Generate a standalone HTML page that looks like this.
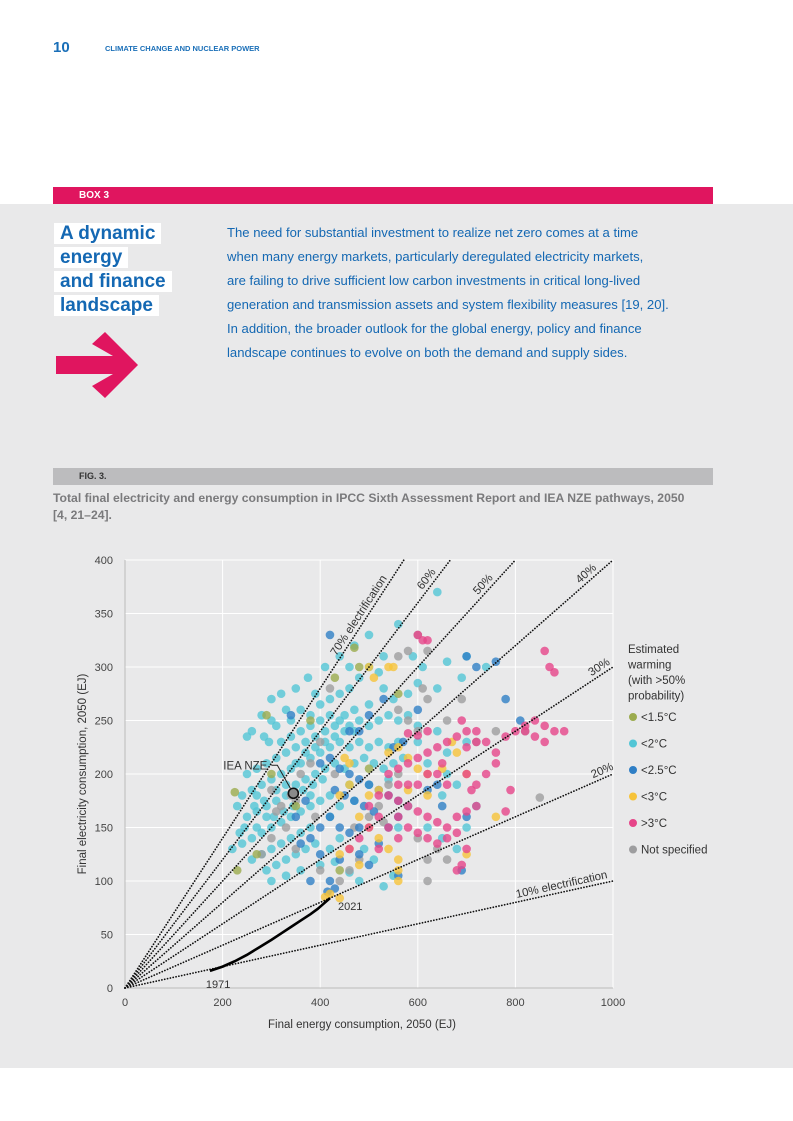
<!DOCTYPE html>
<html><head><meta charset="utf-8"><style>
body{margin:0;width:793px;height:1121px;background:#fff;position:relative;overflow:hidden;font-family:"Liberation Sans",sans-serif;}
.abs{position:absolute;}
.hl{background:#fff;padding:0 6px 0 6px;}
</style></head><body>
<div class="abs" style="left:53px;top:39px;font-size:15px;font-weight:bold;color:#1a6fb8;">10</div>
<div class="abs" style="left:105px;top:44px;font-size:7.5px;font-weight:bold;color:#1a6fb8;">CLIMATE CHANGE AND NUCLEAR POWER</div>
<div class="abs" style="left:0;top:204px;width:793px;height:864px;background:#e9e9ea;"></div>
<div class="abs" style="left:53px;top:187px;width:660px;height:17px;background:#e0155f;"></div>
<div class="abs" style="left:79px;top:190px;font-size:10px;font-weight:bold;color:#fff;">BOX 3</div>
<div class="abs" style="left:54px;top:222px;font-size:19px;font-weight:bold;color:#1468b3;line-height:24px;">
<span class="hl">A dynamic</span><br><span class="hl">energy</span><br><span class="hl">and finance</span><br><span class="hl">landscape</span></div>
<svg class="abs" style="left:0;top:0" width="200" height="420"><polygon fill="#e0155f" points="56,356 113,356 92,344 105,332 138,365 105,398 92,386 113,374 56,374"/></svg>
<div class="abs" style="left:227px;top:221px;font-size:13.1px;line-height:24px;color:#1468b3;white-space:nowrap;">
The need for substantial investment to realize net zero comes at a time<br>when many energy markets, particularly deregulated electricity markets,<br>are failing to drive sufficient low carbon investments in critical long-lived<br>generation and transmission assets and system flexibility measures [19, 20].<br>In addition, the broader outlook for the global energy, policy and finance<br>landscape continues to evolve on both the demand and supply sides.</div>
<div class="abs" style="left:53px;top:468px;width:660px;height:17px;background:#bcbcbe;"></div>
<div class="abs" style="left:79px;top:471px;font-size:9px;font-weight:bold;color:#333;">FIG. 3.</div>
<div class="abs" style="left:53px;top:490px;width:645px;font-size:12.2px;font-weight:bold;line-height:17px;color:#7a7a7c;">Total final electricity and energy consumption in IPCC Sixth Assessment Report and IEA NZE pathways, 2050 [4, 21–24].</div>
<svg id="chart" class="abs" style="left:0;top:0" width="793" height="1121"></svg>
<script>
const xTicks=[0,200,400,600,800,1000];
const yTicks=[0,50,100,150,200,250,300,350,400];
const shares=[10,20,30,40,50,60,70];
const shareLabels=["10% electrification","20%","30%","40%","50%","60%","70% electrification"];
const shareLabelX=[898,984,980,955,745,630,492];
const cyan=[[300,270],[320,275],[310,245],[340,250],[360,260],[380,255],[400,265],[420,270],[440,275],[460,280],[480,290],[500,300],[520,295],[530,280],[560,340],[640,370],[590,310],[610,300],[660,305],[700,310],[740,300],[690,290],[640,280],[600,285],[580,275],[550,270],[500,265],[470,260],[450,255],[430,245],[410,240],[390,235],[370,230],[350,225],[330,220],[310,215],[290,210],[270,205],[260,240],[250,235],[280,255],[295,230],[320,230],[340,235],[360,240],[380,245],[400,250],[420,255],[440,250],[460,245],[480,250],[500,245],[520,250],[540,255],[560,250],[580,255],[600,245],[560,230],[540,225],[520,230],[500,225],[480,230],[460,225],[440,230],[420,225],[400,220],[380,215],[360,210],[340,205],[320,200],[300,195],[280,190],[260,185],[240,180],[230,170],[250,160],[270,165],[290,170],[310,175],[330,180],[350,190],[370,195],[390,200],[410,205],[430,210],[450,205],[470,210],[490,215],[510,210],[530,205],[550,210],[570,215],[620,210],[660,200],[680,190],[650,180],[300,150],[320,155],[340,160],[360,165],[380,170],[400,175],[420,180],[280,145],[260,140],[240,135],[220,130],[260,120],[280,125],[300,130],[320,135],[340,140],[360,145],[380,150],[290,110],[310,115],[330,120],[350,125],[370,130],[390,135],[420,130],[440,140],[300,100],[330,105],[360,110],[400,115],[430,118],[460,108],[480,100],[530,95],[550,105],[510,120],[490,130],[270,180],[250,200],[380,180],[460,190],[500,190],[540,195],[420,160],[440,170],[470,175],[330,260],[350,280],[375,290],[410,300],[440,310],[470,320],[500,330],[530,310],[460,300],[390,275],[300,250],[285,235],[600,230],[640,240],[660,220],[700,230],[720,170],[700,150],[680,130],[650,140],[620,150],[560,150],[580,170],[310,185],[290,160],[270,150],[330,190],[350,210],[370,220],[390,225],[410,230],[430,235],[450,240],[470,240],[345,170],[365,185],[385,190],[405,195],[325,165],[305,160],[285,175],[265,170],[245,150],[235,145]];
const blue=[[400,210],[420,215],[440,205],[460,200],[480,195],[500,190],[520,185],[540,180],[430,185],[450,180],[470,175],[490,170],[510,165],[420,160],[440,150],[460,145],[480,150],[400,150],[380,140],[360,135],[400,125],[440,120],[480,125],[500,115],[520,135],[540,150],[560,160],[420,100],[430,93],[415,90],[380,100],[500,255],[530,270],[550,225],[570,230],[600,260],[700,310],[720,300],[760,305],[780,270],[810,250],[700,160],[690,110],[560,105],[560,175],[370,175],[350,160],[620,185],[640,190],[650,170],[420,330],[340,255],[460,240],[480,240]];
const yellow=[[500,180],[520,185],[540,220],[560,225],[580,215],[600,205],[620,200],[460,190],[440,180],[480,160],[500,150],[520,140],[540,130],[560,120],[460,130],[440,125],[480,115],[560,110],[560,100],[420,88],[410,85],[440,84],[540,300],[550,300],[500,300],[510,290],[670,230],[680,220],[700,200],[650,205],[620,180],[760,160],[700,125],[460,210],[450,215],[580,185]];
const pink=[[540,180],[560,175],[580,170],[600,165],[620,160],[640,155],[660,150],[680,145],[560,160],[580,150],[600,145],[620,140],[640,135],[660,140],[680,160],[700,165],[720,170],[560,140],[540,150],[520,160],[500,170],[520,180],[540,200],[560,205],[580,210],[600,215],[620,220],[640,225],[660,230],[680,235],[700,240],[720,240],[740,230],[760,220],[780,235],[800,240],[820,245],[840,250],[860,245],[880,240],[900,240],[860,230],[840,235],[820,240],[870,300],[880,295],[860,315],[700,200],[710,185],[720,190],[740,200],[760,210],[780,165],[790,185],[700,130],[680,110],[690,115],[660,190],[640,200],[620,200],[600,190],[580,190],[560,190],[650,210],[620,240],[600,236],[580,238],[600,330],[610,325],[620,325],[700,225],[720,230],[690,250],[500,150],[480,140],[460,130],[520,130]];
const grey=[[560,310],[580,315],[600,330],[620,315],[610,280],[620,270],[660,250],[690,270],[720,230],[760,240],[560,260],[580,250],[600,240],[420,280],[400,230],[380,210],[360,200],[340,180],[320,170],[310,165],[350,130],[330,150],[300,140],[280,125],[400,110],[440,100],[460,110],[480,120],[500,160],[520,170],[540,190],[560,200],[600,140],[620,120],[640,130],[660,120],[620,100],[850,178],[820,240],[350,175],[300,185],[390,160],[430,200],[470,150],[530,155]];
const olive=[[230,110],[225,183],[470,318],[560,275],[430,290],[380,250],[300,200],[270,125],[290,255],[440,110],[480,300],[350,170],[500,205]];
const history=[[174,16],[200,20],[225,25],[250,31],[275,38],[300,45],[320,51],[340,57],[360,63],[380,69],[395,74],[405,78],[415,82],[420,84]];
const ieaNze=[345,182];
const legendLabels=["<1.5°C","<2°C","<2.5°C","<3°C",">3°C","Not specified"];
const legendColors=["#9bab4e","#52c6d6","#2f7fc6","#f6c33a","#e64589","#9d9d9f"];

const svg=document.getElementById('chart');
const NS='http://www.w3.org/2000/svg';
const X0=125,X1=613,Y0=988,Y1=560;
const sx=v=>X0+v*(X1-X0)/1000;
const sy=v=>Y0-v*(Y0-Y1)/400;
function mk(tag,attrs,parent){const e=document.createElementNS(NS,tag);for(const k in attrs)e.setAttribute(k,attrs[k]);(parent||svg).appendChild(e);return e;}
const grid=mk('g',{});


yTicks.forEach(t=>{
  mk('line',{x1:X0,x2:X1,y1:sy(t),y2:sy(t),stroke:'#fff','stroke-width':1},grid);
  const tx=mk('text',{x:X0-12,y:sy(t)+4,'text-anchor':'end','font-size':11,fill:'#444','font-family':'Liberation Sans, sans-serif'});
  tx.textContent=t;
  
  
});
xTicks.forEach(t=>{
  mk('line',{x1:sx(t),x2:sx(t),y1:Y1,y2:Y0,stroke:'#fff','stroke-width':1},grid);
  const tx=mk('text',{x:sx(t),y:Y0+18,'text-anchor':'middle','font-size':11,fill:'#444','font-family':'Liberation Sans, sans-serif'});
  tx.textContent=t;
  
  
});
const ax=mk('line',{x1:X0,x2:X0,y1:Y1,y2:Y0,stroke:'#bbb','stroke-width':1});


const ax2=mk('line',{x1:X0,x2:X1,y1:Y0,y2:Y0,stroke:'#bbb','stroke-width':1});


function drawPts(arr,color,name){
  const g=mk('g',{});
  
  
  arr.forEach(p=>{const c=mk('circle',{cx:sx(p[0]),cy:sy(p[1]),r:4.3,fill:color,'fill-opacity':0.8},g);
    
    });
}
drawPts(cyan,legendColors[1],'series-below-2c');
drawPts(grey,legendColors[5],'series-not-specified');
drawPts(blue,legendColors[2],'series-below-2-5c');
drawPts(yellow,legendColors[3],'series-below-3c');
drawPts(pink,legendColors[4],'series-above-3c');
drawPts(olive,legendColors[0],'series-below-1-5c');
shares.forEach((s,i)=>{
  let xe=1000; if(s*10>400) xe=40000/s;
  const l=mk('line',{x1:sx(0),y1:sy(0),x2:sx(xe),y2:sy(xe*s/100),stroke:'#111','stroke-width':1.7,'stroke-dasharray':'0.1 2.8','stroke-linecap':'round'});
  
  
  const lx=shareLabelX[i],px=sx(lx),py=sy(lx*s/100);
  const ang=Math.atan(s/100*(Y0-Y1)/400/((X1-X0)/1000))*180/Math.PI;
  const t=mk('text',{x:px,y:py-4,'text-anchor':'middle','font-size':11.5,fill:'#333','font-family':'Liberation Sans, sans-serif',transform:`rotate(${-ang} ${px} ${py})`});
  t.textContent=shareLabels[i];
  
  
});
const hp=mk('polyline',{points:history.map(p=>sx(p[0])+','+sy(p[1])).join(' '),fill:'none',stroke:'#000','stroke-width':2.6});


const t1=mk('text',{x:sx(history[0][0])-4,y:sy(history[0][1])+17,'font-size':11,fill:'#333','font-family':'Liberation Sans, sans-serif'});t1.textContent='1971';


const hl=history[history.length-1];
const t2=mk('text',{x:sx(hl[0])+8,y:sy(hl[1])+12,'font-size':11,fill:'#333','font-family':'Liberation Sans, sans-serif'});t2.textContent='2021';


const nx=sx(ieaNze[0]),ny=sy(ieaNze[1]);
const ll=mk('polyline',{points:`${nx-3},${ny-5} ${nx-16},${ny-28} ${nx-22},${ny-28}`,fill:'none',stroke:'#222','stroke-width':1});


const nc=mk('circle',{cx:nx,cy:ny,r:5,fill:'#8a8a8a',stroke:'#111','stroke-width':1.6});


const nt=mk('text',{x:nx-26,y:ny-24,'text-anchor':'end','font-size':11.5,fill:'#333','font-family':'Liberation Sans, sans-serif'});nt.textContent='IEA NZE';


const yt=mk('text',{x:86,y:774,'text-anchor':'middle','font-size':11.5,fill:'#333','font-family':'Liberation Sans, sans-serif',transform:'rotate(-90 86 774)'});yt.textContent='Final electricity consumption, 2050 (EJ)';


const xt=mk('text',{x:362,y:1028,'text-anchor':'middle','font-size':11.5,fill:'#333','font-family':'Liberation Sans, sans-serif'});xt.textContent='Final energy consumption, 2050 (EJ)';


['Estimated','warming','(with >50%','probability)'].forEach((s,i)=>{
  const t=mk('text',{x:628,y:653+i*15.5,'font-size':11.5,fill:'#333','font-family':'Liberation Sans, sans-serif'});t.textContent=s;
  
  
});
legendLabels.forEach((s,i)=>{
  const y=717+i*26.5;
  const c=mk('circle',{cx:633,cy:y,r:4,fill:legendColors[i]});
  
  
  const t=mk('text',{x:641,y:y+4,'font-size':11.5,fill:'#333','font-family':'Liberation Sans, sans-serif'});t.textContent=s;
  
  
});
</script>
</body></html>
